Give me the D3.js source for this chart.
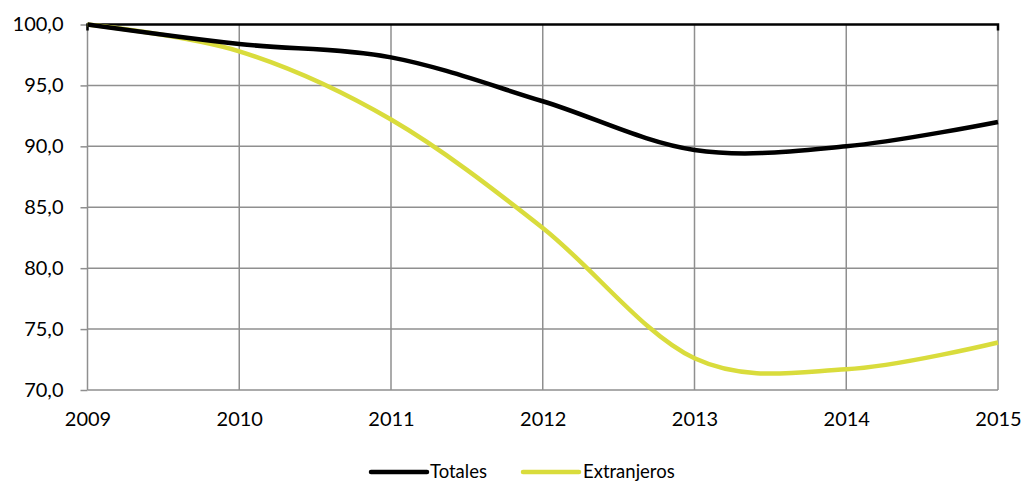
<!DOCTYPE html>
<html>
<head>
<meta charset="UTF-8">
<script src="https://cdn.jsdelivr.net/npm/d3@7"></script>
<style>
  body { margin: 0; background: #fff; }
  .tick text { font-family: Lato, "Open Sans", sans-serif; font-size: 20px; fill: #000; }
  .legend text { font-family: Lato, "Open Sans", sans-serif; font-size: 18.5px; fill: #000; }
</style>
</head>
<body>
<svg id="chart" width="1025" height="482"></svg>
<script>
var years = [2009, 2010, 2011, 2012, 2013, 2014, 2015];
var totales = [100.0, 98.4, 97.3, 93.7, 89.7, 90.0, 92.0];
var extranjeros = [100.0, 97.8, 92.2, 83.3, 72.6, 71.7, 73.9];
var yTicks = [70, 75, 80, 85, 90, 95, 100];
var seriesNames = ["Totales", "Extranjeros"];
var seriesColors = ["#000000", "#d9dc3c"];

var margin = {top: 24.5, right: 27, bottom: 92, left: 87.5},
    width = 1025 - margin.left - margin.right,
    height = 482 - margin.top - margin.bottom;

var svg = d3.select("#chart").append("g")
    .attr("transform", "translate(" + margin.left + "," + margin.top + ")");

var x = d3.scaleLinear().domain([2009, 2015]).range([0, width]);
var y = d3.scaleLinear().domain([70, 100]).range([height, 0]);

var fmt = function(d) { return d3.format(".1f")(d).replace(".", ","); };

// horizontal grid + y labels
var yAxis = svg.append("g")
    .call(d3.axisLeft(y).tickValues(yTicks).tickFormat(fmt).tickSize(7).tickPadding(17));
yAxis.select(".domain").remove();
yAxis.selectAll(".tick line").attr("stroke", "#8f8f8f").attr("stroke-width", 1.5);

svg.append("g").selectAll("line")
    .data(yTicks.filter(d => d < 100))
    .enter().append("line")
    .attr("x1", 0).attr("x2", width)
    .attr("y1", d => y(d)).attr("y2", d => y(d))
    .attr("stroke", "#8f8f8f").attr("stroke-width", 1.5);

// vertical grid
svg.append("g").selectAll("line")
    .data(years)
    .enter().append("line")
    .attr("x1", d => x(d)).attr("x2", d => x(d))
    .attr("y1", 0).attr("y2", height)
    .attr("stroke", "#8f8f8f").attr("stroke-width", 1.5);

// x labels
var xAxis = svg.append("g")
    .attr("transform", "translate(0," + height + ")")
    .call(d3.axisBottom(x).tickValues(years).tickFormat(d3.format("d")).tickSize(0).tickPadding(22));
xAxis.select(".domain").remove();

// top border (dark)
svg.append("path")
    .attr("d", "M0," + (y(100) + 6) + "V" + y(100) + "H" + width + "V" + (y(100) + 6))
    .attr("fill", "none").attr("stroke", "#000").attr("stroke-width", 2.5);

// lines
var line = d3.line()
    .x((d, i) => x(years[i]))
    .y(d => y(d))
    .curve(d3.curveCardinal.tension(0));

[extranjeros, totales].forEach(function(vals, k) {
  var idx = k === 0 ? 1 : 0;
  svg.append("path")
      .datum(vals)
      .attr("fill", "none")
      .attr("stroke", seriesColors[idx])
      .attr("stroke-width", 4.5)
      .attr("stroke-linejoin", "round")
      .attr("d", line);
});

// legend
var legendPos = [{lx: 371, tx: 430}, {lx: 523, tx: 583}];
var legend = d3.select("#chart").append("g").attr("class", "legend");
seriesNames.forEach(function(name, i) {
  legend.append("line")
      .attr("x1", legendPos[i].lx).attr("x2", legendPos[i].lx + 56)
      .attr("y1", 472).attr("y2", 472)
      .attr("stroke", seriesColors[i]).attr("stroke-width", 4.5)
      .attr("stroke-linecap", "round");
  legend.append("text")
      .attr("x", legendPos[i].tx).attr("y", 472)
      .attr("dy", "0.35em")
      .text(name);
});
</script>
</body>
</html>
